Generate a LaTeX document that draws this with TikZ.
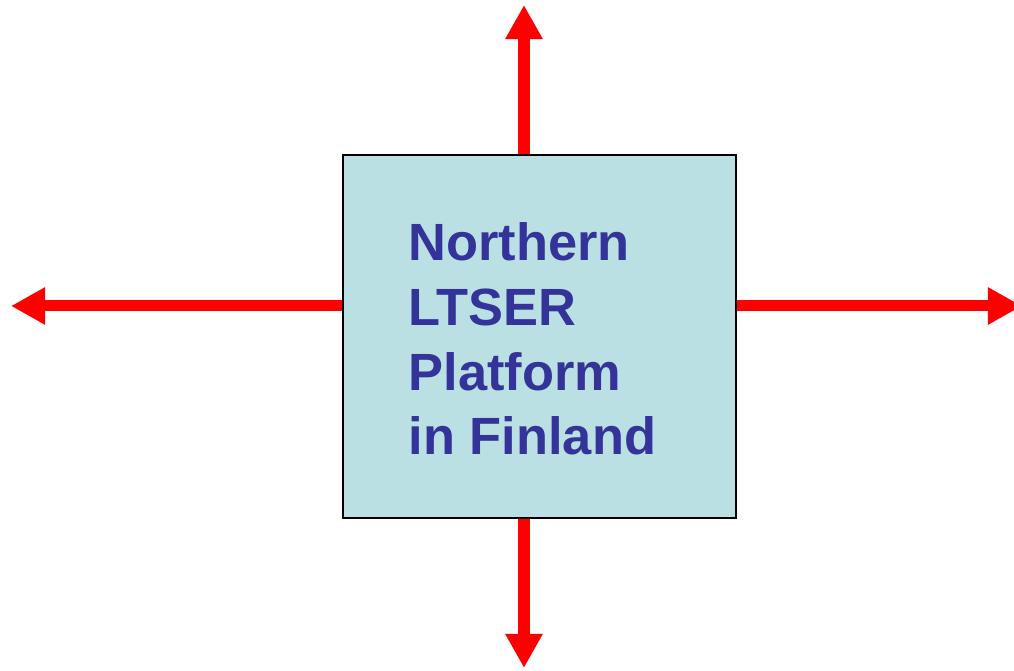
\documentclass[tikz,border=0pt]{standalone}
\usepackage{fontspec}
\setmainfont{Liberation Sans}
\usepackage{xcolor}
\usetikzlibrary{positioning,arrows.meta}
\definecolor{boxfill}{RGB}{187,224,227}
\definecolor{titleblue}{RGB}{51,51,153}

\begin{document}
\begin{tikzpicture}[
  x=0.01cm, y=-0.01cm,
  platformbox/.style={rectangle, draw=black, line width=1.5pt/2.85, fill=boxfill, minimum width=3.93cm, minimum height=3.63cm, inner sep=0pt},
  title/.style={text=titleblue, font=\fontsize{14.9}{18.4}\selectfont\bfseries, align=left, inner sep=0pt},
  arrow/.style={-{Triangle[width=0.35cm, length=0.34cm]}, red, line width=0.11cm}
]
  \useasboundingbox (0,0) rectangle (1014,671);

  % Platform
  \node[platformbox] (platform) at (539.5,336.5) {};
  \node[title, anchor=north west] (name) at (408,222) {Northern\\LTSER\\Platform\\in Finland};

  % Arrow ends
  \coordinate (north) at (524,5);
  \coordinate (south) at (524,668);
  \coordinate (west) at (11,306);
  \coordinate (east) at (1022,306);

  % Arrows
  \draw[arrow] (platform.north -| north) -- (north);
  \draw[arrow] (platform.south -| south) -- (south);
  \draw[arrow] (platform.west |- west) -- (west);
  \draw[arrow] (platform.east |- east) -- (east);

\end{tikzpicture}
\end{document}
